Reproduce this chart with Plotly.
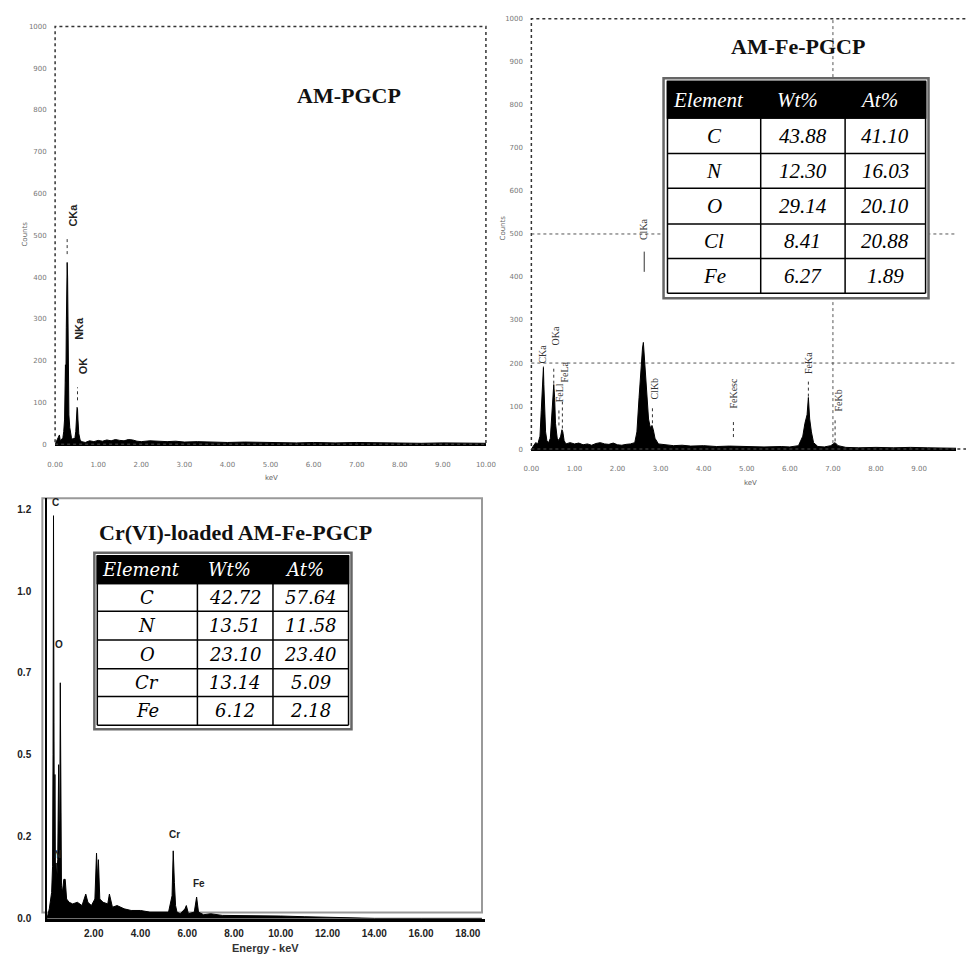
import plotly.graph_objects as go

# ---------------- Panel A : AM-PGCP ----------------
a_energy = [0.00, 0.05, 0.10, 0.12, 0.15, 0.18, 0.20, 0.22, 0.24, 0.25, 0.26, 0.27, 0.28, 0.29, 0.30,
            0.31, 0.32, 0.34, 0.36, 0.38, 0.40, 0.42, 0.44, 0.46, 0.48, 0.50, 0.51, 0.52, 0.53, 0.55,
            0.58, 0.62, 0.70, 0.80, 0.90, 1.00, 1.10, 1.20, 1.30, 1.40, 1.50, 1.60, 1.70, 1.80, 1.90,
            2.00, 2.20, 2.40, 2.60, 2.80, 3.00, 3.30, 3.60, 4.00, 4.40, 4.80, 5.20, 5.60, 6.00, 6.50,
            7.00, 7.50, 8.00, 8.50, 9.00, 9.50, 10.00]
a_counts = [0, 10, 22, 8, 12, 15, 30, 60, 190, 150, 280, 380, 435, 400, 240,
            120, 70, 40, 20, 15, 12, 14, 12, 15, 30, 70, 88, 85, 60, 25,
            10, 6, 4, 8, 6, 9, 7, 10, 8, 11, 9, 8, 11, 10, 7,
            6, 8, 7, 6, 7, 5, 6, 5, 4, 5, 4, 4, 3, 4, 3,
            4, 3, 3, 2, 3, 2, 2]
a_labels = ["CKa", "NKa", "OK"]
a_label_x = [0.41, 0.55, 0.64]
a_label_y = [549, 278, 188]
a_stem_x = [0.28, 0.52]
a_stem_lo = [455, 105]
a_stem_hi = [497, 136]

# ---------------- Panel B : AM-Fe-PGCP ----------------
b_energy = [0.00, 0.10, 0.15, 0.20, 0.23, 0.25, 0.27, 0.28, 0.29, 0.31, 0.33, 0.36, 0.40, 0.44, 0.48,
            0.50, 0.52, 0.54, 0.56, 0.60, 0.64, 0.68, 0.71, 0.73, 0.76, 0.80, 0.90, 1.00, 1.10, 1.20,
            1.30, 1.40, 1.50, 1.60, 1.70, 1.80, 1.90, 2.00, 2.10, 2.20, 2.30, 2.40, 2.45, 2.50, 2.55,
            2.58, 2.60, 2.62, 2.65, 2.68, 2.72, 2.76, 2.80, 2.83, 2.87, 2.95, 3.10, 3.30, 3.50, 3.70,
            4.00, 4.30, 4.60, 5.00, 5.40, 5.80, 6.00, 6.20, 6.30, 6.35, 6.40, 6.43, 6.46, 6.50, 6.55,
            6.65, 6.80, 6.95, 7.05, 7.12, 7.30, 7.60, 8.00, 8.40, 8.80, 9.20, 9.60, 9.86]
b_counts = [0, 15, 12, 30, 90, 140, 170, 190, 150, 90, 40, 20, 15, 25, 80,
            130, 150, 120, 60, 25, 20, 30, 45, 40, 20, 12, 15, 12, 14, 10,
            12, 9, 13, 15, 12, 11, 14, 10, 9, 11, 12, 15, 40, 120, 200,
            235, 248, 220, 180, 120, 70, 50, 55, 45, 25, 12, 10, 8, 9, 7,
            8, 6, 7, 6, 5, 6, 5, 8, 30, 60, 80, 120, 70, 40, 15,
            6, 5, 8, 15, 8, 4, 3, 4, 3, 4, 3, 2, 2]
b_labels = ["CKa", "OKa", "FeLl", "FeLa", "ClKa", "ClKb", "FeKesc", "FeKa", "FeKb"]
b_label_x = [0.27, 0.55, 0.64, 0.76, 2.62, 2.85, 4.69, 6.43, 7.12]
b_label_y = [222, 262, 132, 178, 512, 141, 130, 201, 113]
b_stem_x = [0.28, 0.52, 0.64, 0.72, 2.81, 4.69, 6.43, 7.05]
b_stem_lo = [192, 152, 55, 48, 60, 28, 122, 18]
b_stem_hi = [190, 190, 95, 110, 95, 63, 160, 72]
b_solid_x = [2.62]
b_solid_lo = [412]
b_solid_hi = [459]
b_grid_y = [200, 500]
b_grid_x = [7.0]
b_header = ["Element", "Wt%", "At%"]
b_elements = ["C", "N", "O", "Cl", "Fe"]
b_wt = ["43.88", "12.30", "29.14", "8.41", "6.27"]
b_at = ["41.10", "16.03", "20.10", "20.88", "1.89"]

# ---------------- Panel C : Cr(VI)-loaded AM-Fe-PGCP ----------------
c_energy = [0.00, 0.10, 0.20, 0.24, 0.26, 0.28, 0.30, 0.32, 0.34, 0.36, 0.39, 0.42, 0.46, 0.50, 0.53,
            0.55, 0.57, 0.59, 0.62, 0.66, 0.72, 0.78, 0.84, 0.95, 1.10, 1.30, 1.50, 1.66, 1.75, 1.90,
            2.05, 2.12, 2.16, 2.20, 2.26, 2.40, 2.60, 2.67, 2.80, 3.00, 3.30, 3.60, 4.00, 4.40, 4.80,
            5.20, 5.35, 5.40, 5.45, 5.50, 5.56, 5.70, 5.90, 5.96, 6.05, 6.30, 6.40, 6.48, 6.70, 7.00,
            7.50, 8.00, 9.00, 10.00, 11.00, 12.00, 13.00, 14.00, 16.00, 18.60]
c_counts = [0.0, 0.03, 0.08, 0.16, 0.50, 1.23, 0.60, 0.12, 0.44, 0.15, 0.17, 0.12, 0.18, 0.47, 0.25,
            0.30, 0.72, 0.25, 0.10, 0.08, 0.12, 0.12, 0.06, 0.05, 0.045, 0.05, 0.04, 0.075, 0.05, 0.04,
            0.06, 0.20, 0.12, 0.18, 0.06, 0.05, 0.045, 0.075, 0.035, 0.04, 0.03, 0.025, 0.025, 0.02, 0.02,
            0.02, 0.07, 0.207, 0.11, 0.04, 0.02, 0.015, 0.03, 0.04, 0.015, 0.02, 0.066, 0.02, 0.012, 0.015,
            0.01, 0.01, 0.008, 0.008, 0.006, 0.004, 0.002, 0.001, 0.001, 0.001]
c_labels = ["C", "N", "O", "Cr", "Fe"]
c_label_x = [0.36, 0.43, 0.53, 5.47, 6.49]
c_label_y = [1.27, 0.197, 0.837, 0.257, 0.106]
c_ytick_vals = [0, 0.25, 0.5, 0.75, 1.0, 1.25]
c_ytick_text = ["0.0", "0.2", "0.5", "0.7", "1.0", "1.2"]
c_xtick_vals = [2, 4, 6, 8, 10, 12, 14, 16, 18]
c_header = ["Element", "Wt%", "At%"]
c_elements = ["C", "N", "O", "Cr", "Fe"]
c_wt = ["42.72", "13.51", "23.10", "13.14", "6.12"]
c_at = ["57.64", "11.58", "23.40", "5.09", "2.18"]

# ---------------- layout helpers (page pixels -> paper) ----------------
W, H = 966, 962


def fx(p):
    return p / W


def fy(p):
    return 1 - p / H


def stems(xs, lo, hi):
    X, Y = [], []
    for x, a, b in zip(xs, lo, hi):
        X += [x, x, None]
        Y += [a, b, None]
    return X, Y


fig = go.Figure()

spec_style = dict(mode="lines", line=dict(color="black", width=1), fill="tozeroy",
                  fillcolor="black", hoverinfo="skip", showlegend=False)

fig.add_trace(go.Scatter(x=a_energy, y=a_counts, xaxis="x", yaxis="y", **spec_style))
fig.add_trace(go.Scatter(x=b_energy, y=b_counts, xaxis="x2", yaxis="y2", **spec_style))
fig.add_trace(go.Scatter(x=c_energy, y=c_counts, xaxis="x3", yaxis="y3", **spec_style))

sx, sy = stems(a_stem_x, a_stem_lo, a_stem_hi)
fig.add_trace(go.Scatter(x=sx, y=sy, xaxis="x", yaxis="y", mode="lines",
                         line=dict(color="#333", width=1, dash="dot"), showlegend=False, hoverinfo="skip"))
sx, sy = stems(b_stem_x, b_stem_lo, b_stem_hi)
fig.add_trace(go.Scatter(x=sx, y=sy, xaxis="x2", yaxis="y2", mode="lines",
                         line=dict(color="#333", width=1, dash="dot"), showlegend=False, hoverinfo="skip"))
sx, sy = stems(b_solid_x, b_solid_lo, b_solid_hi)
fig.add_trace(go.Scatter(x=sx, y=sy, xaxis="x2", yaxis="y2", mode="lines",
                         line=dict(color="#333", width=1), showlegend=False, hoverinfo="skip"))

tick_small = dict(family="DejaVu Sans", size=7, color="#777")
tick_bold = dict(family="Liberation Sans", size=10, color="#222", weight="bold")

fig.update_layout(
    width=W, height=H, margin=dict(l=0, r=0, t=0, b=0),
    paper_bgcolor="white", plot_bgcolor="white", showlegend=False,
    xaxis=dict(domain=[fx(48), fx(487)], anchor="y", range=[0, 10],
               tickvals=list(range(0, 11)), tickformat=".2f", tickfont=tick_small,
               ticks="outside", ticklen=12, tickcolor="rgba(0,0,0,0)",
               showgrid=False, zeroline=False, showline=True, linecolor="black", linewidth=2),
    yaxis=dict(domain=[fy(444.3), fy(22.7)], anchor="x", range=[0, 1000], dtick=100,
               tickfont=tick_small, ticks="outside", ticklen=6, tickcolor="rgba(0,0,0,0)",
               showgrid=False, zeroline=False, showline=False),
    xaxis2=dict(domain=[fx(533.3), 1], anchor="y2", range=[0, (W - 533.3) / 43.9],
                tickvals=list(range(0, 10)), tickformat=".2f", tickfont=tick_small,
                ticks="outside", ticklen=12, tickcolor="rgba(0,0,0,0)",
                showgrid=False, zeroline=False, showline=True, linecolor="black", linewidth=2),
    yaxis2=dict(domain=[fy(449.3), fy(15)], anchor="x2", range=[0, 1000], dtick=100,
                tickfont=tick_small, ticks="outside", ticklen=6, tickcolor="rgba(0,0,0,0)",
                showgrid=False, zeroline=False, showline=False),
    xaxis3=dict(domain=[fx(39.7), fx(486)], anchor="y3", range=[0, 18.73],
                tickvals=c_xtick_vals, tickformat=".2f", tickfont=tick_bold,
                ticks="outside", ticklen=3, tickcolor="rgba(0,0,0,0)",
                showgrid=False, zeroline=False, showline=True, linecolor="black", linewidth=3),
    yaxis3=dict(domain=[fy(923.3), fy(499)], anchor="x3", range=[0, 1.283],
                tickvals=c_ytick_vals, ticktext=c_ytick_text, tickfont=tick_bold,
                ticks="outside", ticklen=12, tickcolor="rgba(0,0,0,0)",
                showgrid=False, zeroline=False, showline=True, linecolor="black", linewidth=1.5),
)

shapes = []
ann = []


def center_ann(text, x, y, font, xref="paper", yref="paper", angle=0, xanchor="center"):
    return dict(text=text, x=x, y=y, xref=xref, yref=yref, textangle=angle, showarrow=False,
                xanchor=xanchor, yanchor="middle", font=font)


# dotted frames for panels A and B
shapes.append(dict(type="rect", xref="x domain", yref="y domain", x0=0, x1=1, y0=0, y1=1,
                   line=dict(color="#333", width=1.5, dash="dot"), layer="above"))
shapes.append(dict(type="rect", xref="x2 domain", yref="y2 domain", x0=0, x1=1.05, y0=0, y1=1,
                   line=dict(color="#333", width=1.5, dash="dot"), layer="above"))
# dotted grid in panel B
for gy in b_grid_y:
    shapes.append(dict(type="line", xref="x2 domain", yref="y2", x0=0, x1=1, y0=gy, y1=gy,
                       line=dict(color="#555", width=1, dash="dot"), layer="below"))
for gx in b_grid_x:
    shapes.append(dict(type="line", xref="x2", yref="y2 domain", x0=gx, x1=gx, y0=0, y1=1,
                       line=dict(color="#555", width=1, dash="dot"), layer="below"))
# gray frame for panel C
shapes.append(dict(type="rect", xref="paper", yref="paper", x0=fx(35), x1=fx(483), y0=fy(917), y1=fy(499),
                   line=dict(color="#999", width=2), layer="below"))


def draw_table(cols, rows, outer, header, columns, font, size):
    left, right = cols[0], cols[-1]
    top, bottom = rows[0], rows[-1]
    shapes.append(dict(type="rect", xref="paper", yref="paper", x0=fx(outer[0]), x1=fx(outer[2]),
                       y0=fy(outer[3]), y1=fy(outer[1]), line=dict(color="#666", width=2.5),
                       fillcolor="white", layer="above"))
    shapes.append(dict(type="rect", xref="paper", yref="paper", x0=fx(left), x1=fx(right),
                       y0=fy(rows[1]), y1=fy(top), line=dict(color="black", width=1.5),
                       fillcolor="black", layer="above"))
    for r in rows[1:]:
        shapes.append(dict(type="line", xref="paper", yref="paper", x0=fx(left), x1=fx(right),
                           y0=fy(r), y1=fy(r), line=dict(color="black", width=1.5), layer="above"))
    for c in cols:
        shapes.append(dict(type="line", xref="paper", yref="paper", x0=fx(c), x1=fx(c),
                           y0=fy(bottom), y1=fy(top), line=dict(color="black", width=1.5), layer="above"))
    for j, h in enumerate(header):
        cx = (cols[j] + cols[j + 1]) / 2 - 6
        cy = (rows[0] + rows[1]) / 2
        ann.append(center_ann("<i>%s</i>" % h, fx(cx), fy(cy),
                              dict(family=font, size=size, color="white")))
    for j, col in enumerate(columns):
        cx = (cols[j] + cols[j + 1]) / 2
        for i, v in enumerate(col):
            cy = (rows[i + 1] + rows[i + 2]) / 2
            ann.append(center_ann("<i>%s</i>" % v, fx(cx), fy(cy),
                                  dict(family=font, size=size, color="black")))


draw_table([672, 767, 853, 935], [78, 115, 151, 186, 222, 257, 292], (668, 75, 938, 297),
           b_header, [b_elements, b_wt, b_at], "Liberation Serif", 21)
draw_table([91, 193, 270, 347], [557, 585, 613, 642, 671, 699, 728], (88, 554, 350, 732),
           c_header, [c_elements, c_wt, c_at], "DejaVu Serif", 18)

fig.update_layout(shapes=shapes)

# titles
title_font = dict(family="Liberation Serif", size=22, color="#111")
ann.append(center_ann("<b>AM-PGCP</b>", fx(347), fy(92), title_font))
ann.append(center_ann("<b>AM-Fe-PGCP</b>", fx(805), fy(43), title_font))
ann.append(center_ann("<b>Cr(VI)-loaded AM-Fe-PGCP</b>", fx(91), fy(533), title_font, xanchor="left"))
# axis titles
small_title = dict(family="DejaVu Sans", size=7, color="#666")
ann.append(center_ann("Counts", fx(17), fy(232), small_title, angle=-90))
ann.append(center_ann("keV", fx(268), fy(478), small_title))
ann.append(center_ann("Counts", fx(504), fy(226), small_title, angle=-90))
ann.append(center_ann("keV", fx(757), fy(484), small_title))
ann.append(center_ann("<b>Energy - keV</b>", fx(262), fy(953),
                      dict(family="Liberation Sans", size=11, color="#333")))
# peak labels
for t, x, y in zip(a_labels, a_label_x, a_label_y):
    ann.append(center_ann("<b>%s</b>" % t, x, y, dict(family="Liberation Sans", size=11, color="#222"),
                          xref="x", yref="y", angle=-90))
for t, x, y in zip(b_labels, b_label_x, b_label_y):
    ann.append(center_ann(t, x, y, dict(family="Liberation Serif", size=10, color="#333"),
                          xref="x2", yref="y2", angle=-90))
for t, x, y in zip(c_labels, c_label_x, c_label_y):
    ann.append(center_ann("<b>%s</b>" % t, x, y, dict(family="Liberation Sans", size=10, color="#222"),
                          xref="x3", yref="y3"))
fig.update_layout(annotations=ann)

fig.write_html("out.html")
